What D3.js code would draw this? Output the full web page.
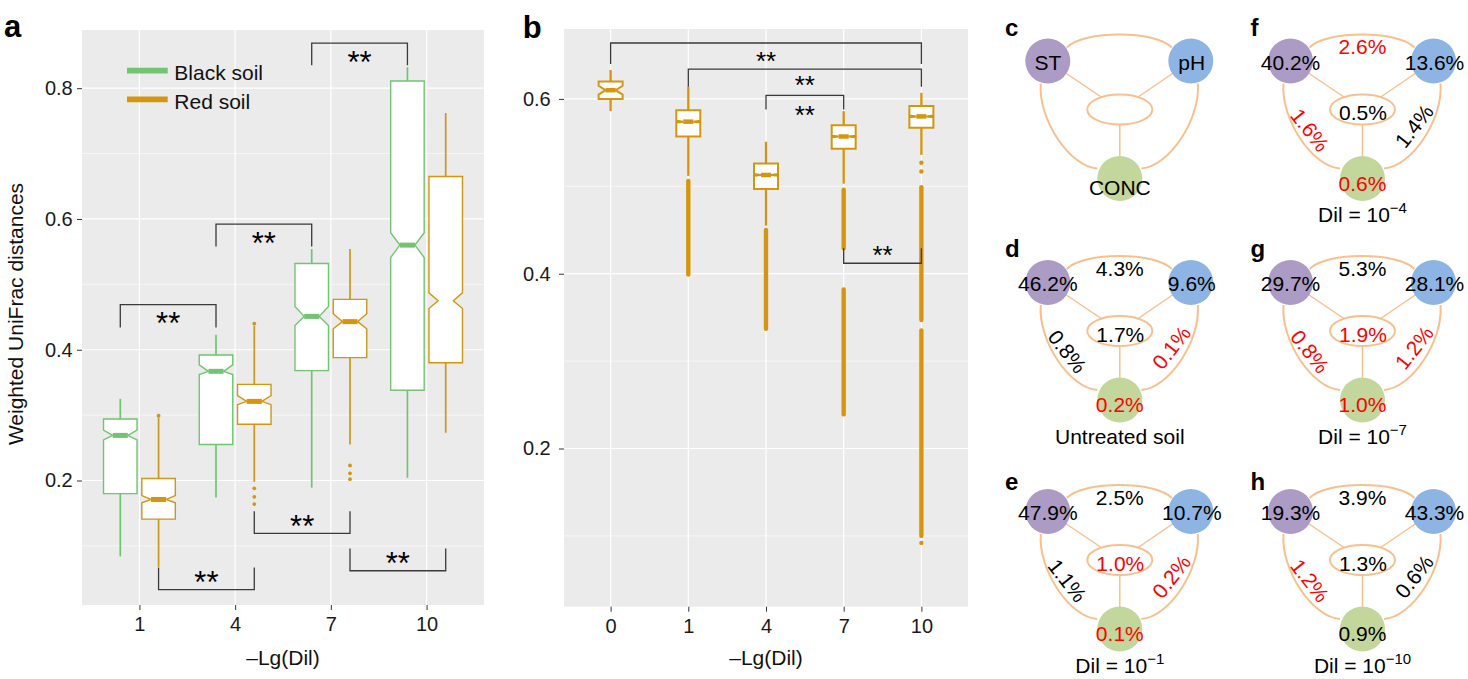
<!DOCTYPE html>
<html><head><meta charset="utf-8">
<script src="https://cdn.jsdelivr.net/npm/d3@7"></script>
<style>
body{margin:0;background:#fff}
svg{display:block}
text{font-family:"Liberation Sans",Arial,Helvetica,sans-serif}
</style>
</head><body>
<svg id="chart" width="1468" height="679"></svg>
<script>
// ================= DATA =================
// Panel a : weighted UniFrac distances by dilution, two soils
const dilCatsA = ["1", "4", "7", "10"];
const soilNames = ["Black soil", "Red soil"];
// each box: [lower whisker, Q1, median, Q3, upper whisker]
const blackSoilBox = [[0.084,0.180,0.269,0.294,0.325],[0.174,0.255,0.367,0.392,0.423],[0.189,0.368,0.451,0.532,0.554],[0.204,0.338,0.560,0.811,0.832]];
const blackSoilNotch = [[0.262,0.277],[0.362,0.377],[0.437,0.466],[0.541,0.579]];
const blackSoilOutliers = [[],[],[],[]];
const redSoilBox = [[0.068,0.141,0.171,0.203,0.296],[0.198,0.286,0.321,0.347,0.437],[0.255,0.388,0.443,0.477,0.554],[0.273,0.380,0.475,0.665,0.762]];
const redSoilNotch = [[0.166,0.177],[0.316,0.330],[0.432,0.455],[0.463,0.487]];
const redSoilOutliers = [[0.299],[0.440,0.188,0.175,0.164],[0.223,0.211,0.202],[]];
const yTicksA = [0.2, 0.4, 0.6, 0.8];
const yMinorA = [0.1, 0.3, 0.5, 0.7];
// significance brackets: [series, from, to, bar value, leg-end value, label]
const bracketsA = [
  ["Black soil","1","4",0.469,0.434,"**"],
  ["Black soil","4","7",0.592,0.558,"**"],
  ["Black soil","7","10",0.869,0.835,"**"],
  ["Red soil","1","4",0.033,0.067,"**"],
  ["Red soil","4","7",0.119,0.153,"**"],
  ["Red soil","7","10",0.062,0.096,"**"]
];

// Panel b
const dilCatsB = ["0", "1", "4", "7", "10"];
const dilBoxB = [[0.586,0.600,0.610,0.620,0.633],[0.512,0.557,0.574,0.587,0.614],[0.455,0.497,0.513,0.526,0.551],[0.503,0.543,0.557,0.570,0.586],[0.536,0.567,0.580,0.592,0.607]];
const dilNotchB = [[0.605,0.615],[0.573,0.575],[0.512,0.514],[0.556,0.558],[0.579,0.581]];
const dilOutlierPointsB = [[],[],[],[],[0.527,0.517,0.092]];
// dense runs of outlying points: [top, bottom]
const dilOutlierRunsB = [[],[[0.506,0.399]],[[0.450,0.337]],[[0.496,0.429],[0.382,0.239]],[[0.499,0.347],[0.335,0.100]]];
const yTicksB = [0.2, 0.4, 0.6];
const yMinorB = [0.1, 0.3, 0.5];
const bracketsB = [["0","10",0.664,0.640,"**"],["1","10",0.634,0.614,"**"],["4","7",0.604,0.588,"**"],["7","10",0.412,0.429,"**"]];

// Panels c-h : variation partitioning
const vennLetters = ["c","f","d","g","e","h"];
const vennST     = ["ST","40.2%","46.2%","29.7%","47.9%","19.3%"];
const vennPH     = ["pH","13.6%","9.6%","28.1%","10.7%","43.3%"];
const vennCONC   = ["CONC","0.6%","0.2%","1.0%","0.1%","0.9%"];
const vennSTpH   = ["","2.6%","4.3%","5.3%","2.5%","3.9%"];
const vennSTCONC = ["","1.6%","0.8%","0.8%","1.1%","1.2%"];
const vennPHCONC = ["","1.4%","0.1%","1.2%","0.2%","0.6%"];
const vennAll    = ["","0.5%","1.7%","1.9%","1.0%","1.3%"];
// 1 = significant (shown in red)
const redCONC   = [0,1,1,1,1,0];
const redSTpH   = [0,1,0,0,0,0];
const redSTCONC = [0,1,0,1,0,1];
const redPHCONC = [0,0,1,1,1,0];
const redAll    = [0,0,0,1,1,0];
const captionBase = ["","Dil = 10","Untreated soil","Dil = 10","Dil = 10","Dil = 10"];
const captionExp  = ["","\u22124","","\u22127","\u22121","\u221210"];

// ================= STYLE =================
const GREEN = "#72c472", GOLD = "#d4960f", PANEL = "#ebebeb";
const FONT = "'Liberation Sans', Arial, Helvetica, sans-serif";
const svg = d3.select("#chart");

function panelFrame(x0, x1, y0, y1, xScale, yScale, major, minor) {
  const g = svg.append("g");
  g.append("rect").attr("x", x0).attr("y", y0).attr("width", x1 - x0).attr("height", y1 - y0).attr("fill", PANEL);
  g.selectAll(".mn").data(minor).enter().append("line")
    .attr("x1", x0).attr("x2", x1).attr("y1", d => yScale(d)).attr("y2", d => yScale(d))
    .attr("stroke", "#fff").attr("stroke-width", 0.6);
  g.selectAll(".mj").data(major).enter().append("line")
    .attr("x1", x0).attr("x2", x1).attr("y1", d => yScale(d)).attr("y2", d => yScale(d))
    .attr("stroke", "#fff").attr("stroke-width", 1.2);
  g.selectAll(".vx").data(xScale.domain()).enter().append("line")
    .attr("x1", d => xScale(d)).attr("x2", d => xScale(d)).attr("y1", y0).attr("y2", y1)
    .attr("stroke", "#fff").attr("stroke-width", 1.2);
  return g;
}

function axes(x0, y1, xScale, yScale, major, yPad, xTitle, xTitleX) {
  const ya = svg.append("g").attr("transform", `translate(${x0},0)`)
    .call(d3.axisLeft(yScale).tickValues(major).tickSize(5).tickPadding(yPad).tickFormat(d3.format(".1f")));
  ya.select(".domain").remove();
  ya.selectAll("line").attr("stroke", "#333");
  ya.selectAll("text").attr("font-size", 20).attr("fill", "#1a1a1a").attr("font-family", FONT);
  const xa = svg.append("g").attr("transform", `translate(0,${y1})`)
    .call(d3.axisBottom(xScale).tickSize(5).tickPadding(7));
  xa.select(".domain").remove();
  xa.selectAll("line").attr("stroke", "#333");
  xa.selectAll("text").attr("font-size", 20).attr("fill", "#1a1a1a").attr("font-family", FONT);
  svg.append("text").attr("x", xTitleX).attr("y", 665).attr("text-anchor", "middle")
    .attr("font-size", 21).attr("fill", "#111").text(xTitle);
}

function notchBox(g, cx, w, y, box, notch, color, sw, medW, nwRatio, showMedian) {
  const [wlo, q1, med, q3, whi] = box;
  const hw = w / 2, nw = hw * nwRatio;
  g.append("line").attr("x1", cx).attr("x2", cx).attr("y1", y(q3)).attr("y2", y(whi))
    .attr("stroke", color).attr("stroke-width", sw + 0.3);
  g.append("line").attr("x1", cx).attr("x2", cx).attr("y1", y(q1)).attr("y2", y(wlo))
    .attr("stroke", color).attr("stroke-width", sw + 0.3);
  const p = d3.path();
  p.moveTo(cx - hw, y(q3)); p.lineTo(cx + hw, y(q3));
  p.lineTo(cx + hw, y(notch[1])); p.lineTo(cx + nw, y(med)); p.lineTo(cx + hw, y(notch[0]));
  p.lineTo(cx + hw, y(q1)); p.lineTo(cx - hw, y(q1));
  p.lineTo(cx - hw, y(notch[0])); p.lineTo(cx - nw, y(med)); p.lineTo(cx - hw, y(notch[1]));
  p.closePath();
  g.append("path").attr("d", p.toString()).attr("fill", "#fff").attr("stroke", color).attr("stroke-width", sw);
  if (showMedian) {
    g.append("line").attr("x1", cx - nw).attr("x2", cx + nw).attr("y1", y(med)).attr("y2", y(med))
      .attr("stroke", color).attr("stroke-width", medW);
  }
}

function bracket(g, xa, xb, yBar, yLeg, label, fs, nudge) {
  const p = d3.path();
  p.moveTo(xa, yLeg); p.lineTo(xa, yBar); p.lineTo(xb, yBar); p.lineTo(xb, yLeg);
  g.append("path").attr("d", p.toString()).attr("fill", "none").attr("stroke", "#3a3a3a").attr("stroke-width", 1.3);
  const down = yLeg > yBar;
  const cy = (down ? yBar + 12 : yBar - 14) + (nudge || 0);
  g.append("text").attr("x", (xa + xb) / 2).attr("y", cy + 0.565 * fs).attr("text-anchor", "middle")
    .attr("font-size", fs).attr("fill", "#000").text(label);
}

// ================= PANEL a =================
const aX0 = 82, aX1 = 484, aY0 = 30, aY1 = 605;
const xA = d3.scalePoint().domain(dilCatsA).range([aX0, aX1]).padding(0.6);
const yA = d3.scaleLinear().domain([0.0096, 0.889]).range([aY1, aY0]);
const stepA = xA.step();
const dodgeA = d3.scalePoint().domain(soilNames).range([-0.2 * stepA, 0.2 * stepA]);
const gA = panelFrame(aX0, aX1, aY0, aY1, xA, yA, yTicksA, yMinorA);
axes(aX0, aY1, xA, yA, yTicksA, 4.3, "\u2013Lg(Dil)", 283);
svg.append("text").attr("transform", "translate(22.7,314) rotate(-90)").attr("text-anchor", "middle")
  .attr("font-size", 21).attr("fill", "#111").text("Weighted UniFrac distances");

const seriesA = [
  {name: "Black soil", box: blackSoilBox, notch: blackSoilNotch, out: blackSoilOutliers, color: GREEN},
  {name: "Red soil", box: redSoilBox, notch: redSoilNotch, out: redSoilOutliers, color: GOLD}
];
const boxWA = stepA * 0.35;
seriesA.forEach(s => {
  dilCatsA.forEach((c, i) => {
    const cx = xA(c) + dodgeA(s.name);
    const showMed = !(s.name === "Red soil" && c === "10");
    notchBox(gA, cx, boxWA, yA, s.box[i], s.notch[i], s.color, 1.4, 5, 0.45, showMed);
    gA.selectAll(null).data(s.out[i]).enter().append("circle")
      .attr("cx", cx).attr("cy", d => yA(d)).attr("r", 1.9).attr("fill", s.color);
  });
});
bracketsA.forEach(b => {
  const off = dodgeA(b[0]);
  bracket(gA, xA(b[1]) + off, xA(b[2]) + off, yA(b[3]), yA(b[4]), b[5], 31, 0);
});
// legend
soilNames.forEach((n, i) => {
  const col = seriesA[i].color, ly = 70.7 + i * 28.6;
  gA.append("line").attr("x1", 127).attr("x2", 167.7).attr("y1", ly).attr("y2", ly)
    .attr("stroke", col).attr("stroke-width", 5.7);
  gA.append("text").attr("x", 174.3).attr("y", ly + 9.3).attr("font-size", 21).attr("fill", "#111").text(n);
});
svg.append("text").attr("x", 4).attr("y", 36.7).attr("font-size", 31).attr("font-weight", "bold").text("a");

// ================= PANEL b =================
const bX0 = 564, bX1 = 968, bY0 = 29, bY1 = 606.7;
const xB = d3.scalePoint().domain(dilCatsB).range([bX0, bX1]).padding(0.6);
const yB = d3.scaleLinear().domain([0.019, 0.680]).range([bY1, bY0]);
const gB = panelFrame(bX0, bX1, bY0, bY1, xB, yB, yTicksB, yMinorB);
axes(bX0, bY1, xB, yB, yTicksB, 8.3, "\u2013Lg(Dil)", 766);
dilCatsB.forEach((c, i) => {
  const cx = xB(c);
  dilOutlierRunsB[i].forEach(r => {
    gB.append("line").attr("x1", cx).attr("x2", cx).attr("y1", yB(r[0])).attr("y2", yB(r[1]))
      .attr("stroke", GOLD).attr("stroke-width", 4.4).attr("stroke-linecap", "round");
  });
  gB.selectAll(null).data(dilOutlierPointsB[i]).enter().append("circle")
    .attr("cx", cx).attr("cy", d => yB(d)).attr("r", 2.2).attr("fill", GOLD);
  notchBox(gB, cx, 24, yB, dilBoxB[i], dilNotchB[i], GOLD, 2, 4.5, 0.42, true);
});
const nudgeB = [0, -1.5, 1.5, 0];
bracketsB.forEach((b, i) => bracket(gB, xB(b[0]), xB(b[1]), yB(b[2]), yB(b[3]), b[4], 26, nudgeB[i]));
svg.append("text").attr("x", 522.7).attr("y", 37.7).attr("font-size", 31).attr("font-weight", "bold").text("b");

// ================= PANELS c-h =================
const PEACH = "#f8c08e", PURPLE = "#ac9bc5", BLUE = "#8eb4e3", LGREEN = "#c3d69b";
const colX = [1047.8, 1290.5], rowY = [61, 282.5, 511.5];
const letterX = [1005, 1250.5], letterY = [36, 256.5, 490];
const pHx = 143, midX = 71.5, concX = 72, concY = 117.5, ellX = 72, ellY = 48.5;

function vText(g, x, y, txt, red, rot) {
  const t = g.append("text").attr("x", x).attr("y", y).attr("text-anchor", "middle")
    .attr("dominant-baseline", "central").attr("font-size", 21)
    .attr("fill", red ? "#ff0000" : "#000").text(txt);
  if (rot) t.attr("transform", `rotate(${rot},${x},${y})`);
}

vennLetters.forEach((L, i) => {
  const col = i % 2, row = Math.floor(i / 2);
  const g = svg.append("g").attr("transform", `translate(${colX[col]},${rowY[row]})`);
  const mx = v => 2 * midX - v;
  // outer connecting curves
  const top = d3.path(); top.moveTo(19, -13.5); top.bezierCurveTo(35, -31, mx(35), -31, mx(19), -13.5);
  const left = d3.path(); left.moveTo(-7, 22.5); left.bezierCurveTo(-10, 58, 22, 106, 49.5, 107.5);
  const right = d3.path(); right.moveTo(mx(-7), 22.5); right.bezierCurveTo(mx(-10), 58, mx(22), 106, mx(49.5), 107.5);
  [top, left, right].forEach(p => g.append("path").attr("d", p.toString()).attr("fill", "none")
    .attr("stroke", PEACH).attr("stroke-width", 2));
  // inner lines
  [[0, 0], [pHx, 0]].forEach(pt => g.append("line").attr("x1", pt[0]).attr("y1", pt[1])
    .attr("x2", ellX).attr("y2", ellY).attr("stroke", PEACH).attr("stroke-width", 1.5));
  g.append("line").attr("x1", ellX).attr("x2", ellX).attr("y1", ellY).attr("y2", concY)
    .attr("stroke", PEACH).attr("stroke-width", 1.5);
  g.append("ellipse").attr("cx", ellX).attr("cy", ellY).attr("rx", 32.5).attr("ry", 15)
    .attr("fill", "#fff").attr("stroke", PEACH).attr("stroke-width", 2);
  g.append("circle").attr("cx", 0).attr("cy", 0).attr("r", 22.5).attr("fill", PURPLE);
  g.append("circle").attr("cx", pHx).attr("cy", 0).attr("r", 22.5).attr("fill", BLUE);
  g.append("circle").attr("cx", concX).attr("cy", concY).attr("r", 22.5).attr("fill", LGREEN);
  // texts
  vText(g, 0, 1, vennST[i], 0);
  vText(g, pHx + 1, 1, vennPH[i], 0);
  vText(g, concX, i === 0 ? 126 : 122, vennCONC[i], redCONC[i]);
  if (vennSTpH[i]) vText(g, 72, -14.5, vennSTpH[i], redSTpH[i]);
  if (vennAll[i]) vText(g, 72.5, 51.5, vennAll[i], redAll[i]);
  if (vennSTCONC[i]) vText(g, 19.5, 69, vennSTCONC[i], redSTCONC[i], 52);
  if (vennPHCONC[i]) vText(g, 123.5, 65, vennPHCONC[i], redPHCONC[i], -52);
  if (captionBase[i]) {
    const t = g.append("text").attr("x", 72).attr("y", 161).attr("text-anchor", "middle")
      .attr("font-size", 21).attr("fill", "#000").text(captionBase[i]);
    if (captionExp[i]) t.append("tspan").attr("font-size", 15).attr("dy", -9).text(captionExp[i]);
  }
  svg.append("text").attr("x", letterX[col]).attr("y", letterY[row]).attr("font-size", 24)
    .attr("font-weight", "bold").text(L);
});
</script>
</body></html>
